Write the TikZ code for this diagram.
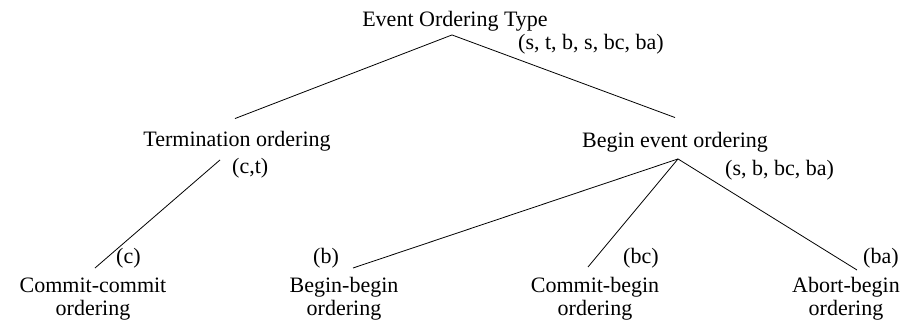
\documentclass[tikz,border=0pt]{standalone}
\usepackage{fontspec}
\setmainfont{Liberation Serif}
\usetikzlibrary{positioning}

\tikzset{
  kind/.style={font=\fontsize{22}{23}\selectfont, inner sep=0pt, align=center},
  tag/.style={font=\fontsize{22}{23}\selectfont, inner sep=0pt, anchor=base west},
  branch/.style={line width=0.8pt}
}

\begin{document}
\begin{tikzpicture}[x=1pt,y=-1pt]
  \useasboundingbox (0,0) rectangle (920,324);

  % Root of the classification
  \node[kind,anchor=base] (root) at (455,26) {Event Ordering Type};
  \node[tag] (rootTag) at (518,49) {(s, t, b, s, bc, ba)};

  % Second level
  \node[kind,anchor=base] (term) at (237,146) {Termination ordering};
  \node[tag] (termTag) at (232,173) {(c,t)};
  \node[kind,anchor=base] (begin) at (675,147) {Begin event ordering};
  \node[tag] (beginTag) at (725,175) {(s, b, bc, ba)};

  % Leaves
  \node[kind,anchor=north] (cc) at (93,278) {Commit-commit\\ordering};
  \node[tag] (ccTag) at (116,263) {(c)};
  \node[kind,anchor=north] (bb) at (344,277) {Begin-begin\\ordering};
  \node[tag] (bbTag) at (313,263) {(b)};
  \node[kind,anchor=north] (cb) at (595,277) {Commit-begin\\ordering};
  \node[tag] (cbTag) at (623,263) {(bc)};
  \node[kind,anchor=north] (ab) at (846,277) {Abort-begin\\ordering};
  \node[tag] (abTag) at (863,263) {(ba)};

  % Tie points
  \coordinate (rootB) at ([xshift=-3pt,yshift=-4pt]root.south);
  \coordinate (termT) at ([xshift=-2pt,yshift=12pt]term.north);
  \coordinate (termB) at ([xshift=-17pt,yshift=-9pt]term.south);
  \coordinate (beginT) at ([yshift=14pt]begin.north);
  \coordinate (beginB) at ([xshift=3pt,yshift=-7pt]begin.south);
  \coordinate (ccT) at ([xshift=2pt,yshift=10pt]cc.north);
  \coordinate (bbT) at ([xshift=9pt,yshift=9pt]bb.north);
  \coordinate (cbT) at ([xshift=-7pt,yshift=10pt]cb.north);
  \coordinate (abT) at ([xshift=11pt,yshift=7pt]ab.north);

  % Branches
  \draw[branch] (rootB) -- (termT);
  \draw[branch] (rootB) -- (beginT);
  \draw[branch] (termB) -- (ccT);
  \draw[branch] (beginB) -- (bbT);
  \draw[branch] (beginB) -- (cbT);
  \draw[branch] (beginB) -- (abT);
\end{tikzpicture}
\end{document}
